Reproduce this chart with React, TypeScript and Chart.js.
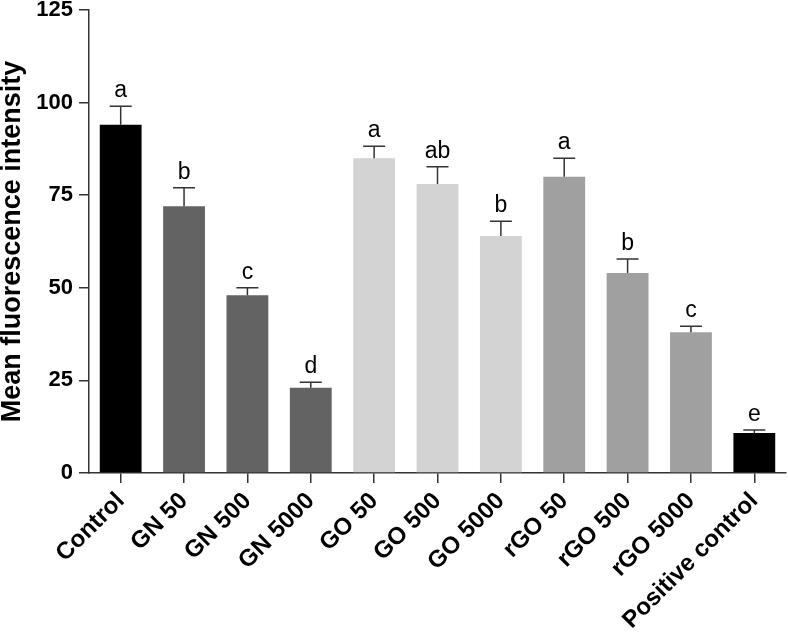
import React, { useEffect, useRef } from "react";
import { Chart, registerables } from "chart.js";

Chart.register(...registerables);

const categories = ["Control", "GN 50", "GN 500", "GN 5000", "GO 50", "GO 500", "GO 5000", "rGO 50", "rGO 500", "rGO 5000", "Positive control"];
const means = [94, 72, 48, 23, 85, 78, 64, 80, 54, 38, 10.8];
const errors = [5, 5, 2, 1.5, 3.2, 4.7, 4, 5, 3.8, 1.6, 0.8];
const letters = ["a", "b", "c", "d", "a", "ab", "b", "a", "b", "c", "e"];
const barColors = ["#000000", "#636363", "#636363", "#636363", "#d3d3d3", "#d3d3d3", "#d3d3d3", "#a0a0a0", "#a0a0a0", "#a0a0a0", "#000000"];
const yTicks = [0, 25, 50, 75, 100, 125];

const FONT = "'Liberation Sans', Arial, Helvetica, sans-serif";
const AXIS = "#333333";

const errorPlugin = {
  id: "errorBars",
  afterDatasetsDraw(chart: any) {
    const ctx = chart.ctx;
    const meta = chart.getDatasetMeta(0);
    const ys = chart.scales.y;
    ctx.save();
    meta.data.forEach((bar: any, i: number) => {
      const x = bar.x;
      const top = ys.getPixelForValue(means[i]);
      const et = ys.getPixelForValue(means[i] + errors[i]);
      ctx.strokeStyle = AXIS;
      ctx.lineWidth = 1.5;
      ctx.beginPath();
      ctx.moveTo(x, top);
      ctx.lineTo(x, et);
      ctx.moveTo(x - 11, et);
      ctx.lineTo(x + 11, et);
      ctx.stroke();
      ctx.fillStyle = "#000";
      ctx.font = `23px ${FONT}`;
      ctx.textAlign = "center";
      ctx.textBaseline = "alphabetic";
      ctx.fillText(letters[i], x, et - 9);
    });
    ctx.restore();
  },
};

export default function App() {
  const ref = useRef<HTMLCanvasElement>(null);
  useEffect(() => {
    if (!ref.current) return;
    const chart = new Chart(ref.current, {
      type: "bar",
      data: {
        labels: categories,
        datasets: [
          {
            data: means,
            backgroundColor: barColors,
            borderWidth: 0,
            categoryPercentage: 1,
            barPercentage: 0.66,
          },
        ],
      },
      options: {
        animation: false,
        responsive: false,
        devicePixelRatio: 1,
        layout: { padding: { top: 10, right: 2, left: 0, bottom: 0 } },
        plugins: { legend: { display: false }, tooltip: { enabled: false } },
        scales: {
          x: {
            offset: true,
            grid: { display: true, drawOnChartArea: false, offset: false, tickLength: 10, color: AXIS, lineWidth: 1.5 },
            border: { display: true, color: AXIS, width: 1.5 },
            ticks: {
              color: "#000",
              font: { family: FONT, size: 24, weight: "bold" },
              minRotation: 45,
              maxRotation: 45,
              autoSkip: false,
              padding: 4,
            },
            afterFit: (s: any) => { s.height = 162; s.paddingLeft = 0; s.paddingRight = 0; },
          },
          y: {
            min: 0,
            max: 125,
            afterBuildTicks: (s: any) => { s.ticks = yTicks.map((v) => ({ value: v })); },
            grid: { display: true, drawOnChartArea: false, tickLength: 10, color: AXIS, lineWidth: 1.5 },
            border: { display: true, color: AXIS, width: 1.5 },
            ticks: {
              color: "#000",
              font: { family: FONT, size: 22, weight: "bold" },
              padding: 6,
            },
            title: {
              display: true,
              text: "Mean fluorescence intensity",
              color: "#000",
              font: { family: FONT, size: 27, weight: "bold", lineHeight: 0.9 },
              padding: { top: 0, bottom: 0 },
            },
            afterFit: (s: any) => { s.width = 89; s.paddingTop = 0; s.paddingBottom = 0; },
          },
        },
      },
      plugins: [errorPlugin],
    });
    return () => chart.destroy();
  }, []);
  return (
    <div style={{ position: "fixed", left: 0, top: 0, width: 788, height: 635, background: "#fff" }}>
      <canvas ref={ref} width={788} height={635} style={{ width: 788, height: 635 }} />
    </div>
  );
}
